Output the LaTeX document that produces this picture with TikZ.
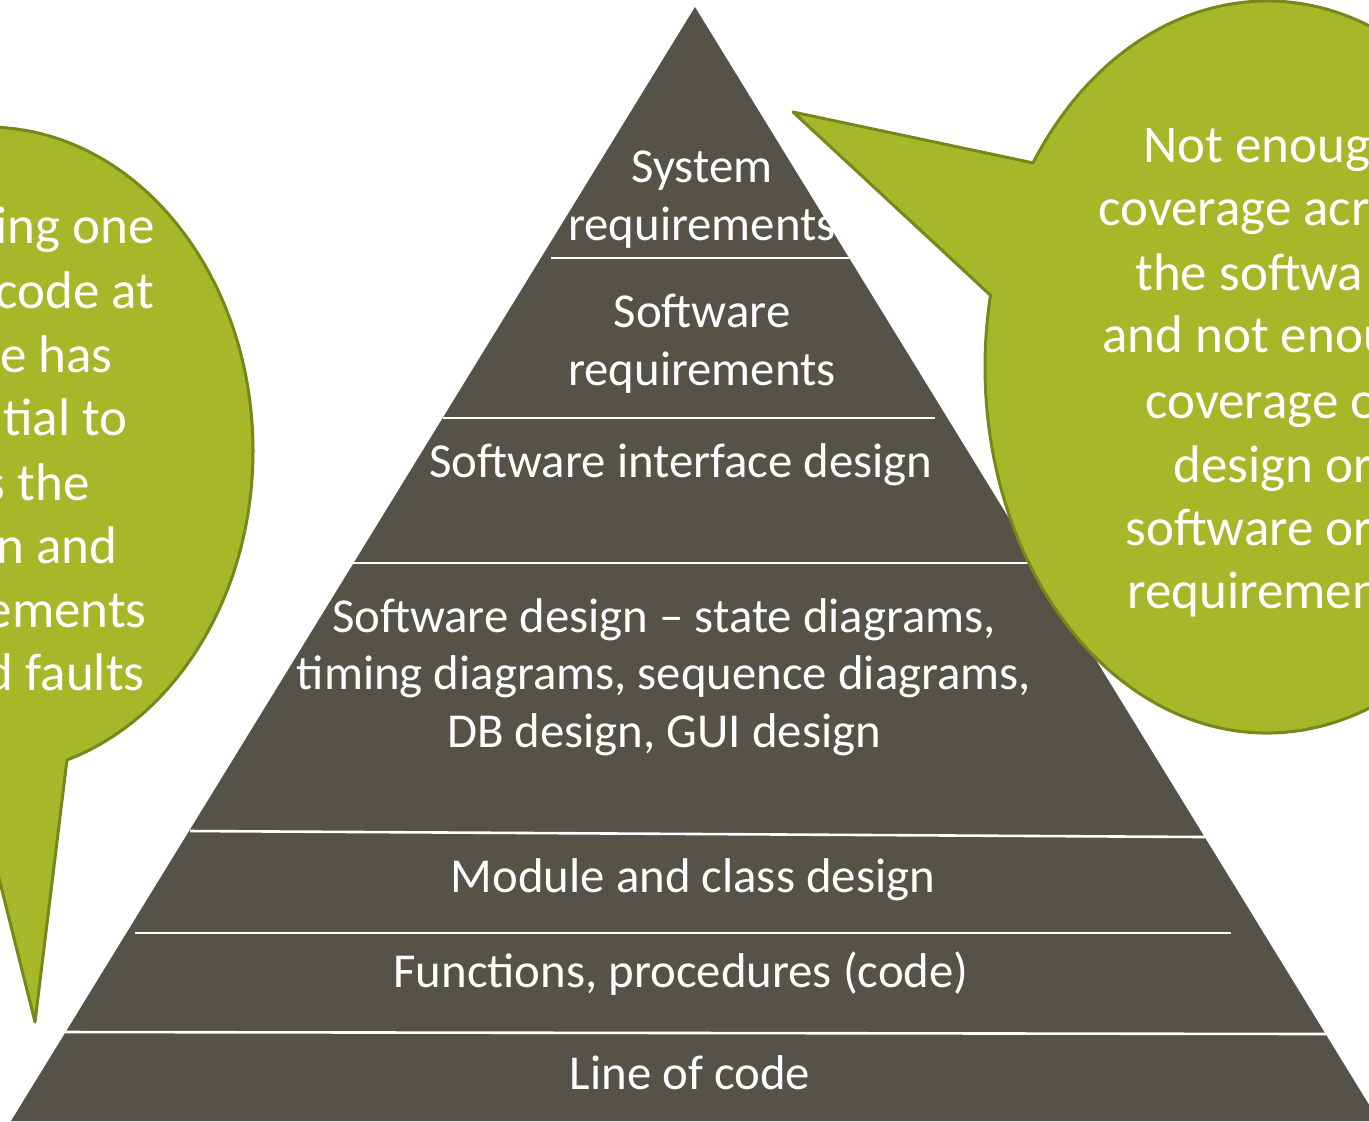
\documentclass[tikz,border=0pt]{standalone}
\usepackage{fontspec}
\setmainfont{Carlito}
\definecolor{pyr}{RGB}{85,83,72}
\definecolor{bubfill}{RGB}{166,183,41}
\definecolor{bubline}{RGB}{118,136,26}
\tikzset{
  sepline/.style={draw=white, line width=1.3pt},
  ptext/.style={text=white, font=\fontsize{24.4}{28.7}\selectfont, align=center, inner sep=0pt, anchor=base},
  btextw/.style={text=white, font=\fontsize{26.5}{32}\selectfont, inner sep=0pt, anchor=base west},
  btexte/.style={text=white, font=\fontsize{26.5}{32}\selectfont, inner sep=0pt, anchor=base east},
  bubble/.style={fill=bubfill, draw=bubline, line width=1.5pt, line join=round},
}
\begin{document}
\begin{tikzpicture}[x=0.5pt,y=-0.5pt]
\path[use as bounding box] (0,0) rectangle (1369,1121);
\clip (0,0) rectangle (1369,1121);

% pyramid
\fill[pyr] (695,7) -- (1379,1121) -- (11,1121) -- cycle;
\draw[sepline] (551,258) -- (850,258);
\draw[sepline] (443,418) -- (935,418);
\draw[sepline] (352,563) -- (1032,563);
\draw[sepline] (190,831) -- (1205,837);
\draw[sepline] (135,933) -- (1231,933);
\draw[sepline] (65,1032) -- (1326,1034);

% multi-line nodes: anchor base = baseline of the last line
\node[ptext] (l1) at (702,240) {System\\requirements};
\node[ptext] (l2) at (702,385) {Software\\requirements};
\node[ptext] (l3) at (681,477) {Software interface design};
\node[ptext] (l4) at (664,747) {Software design – state diagrams,\\timing diagrams, sequence diagrams,\\DB design, GUI design};
\node[ptext] (l5) at (693,892) {Module and class design};
\node[ptext] (l6) at (681,987) {Functions, procedures (code)};
\node[ptext] (l7) at (690,1089) {Line of code};

% right callout
\path (1267,367) ++(213.9:282 and 366) coordinate (rA);
\path (1267,367) ++(191.3:282 and 366) coordinate (rB);
\coordinate (rtip) at (793,112);
\draw[bubble] (rB) -- (rtip) -- (rA)
  arc[start angle=213.9, end angle=551.3, x radius=282, y radius=366] -- cycle;

% left callout
\path (-13,451) ++(72.5:266 and 324) coordinate (lA);
\path (-13,451) ++(93:266 and 324) coordinate (lB);
\coordinate (ltip) at (35,1022);
\draw[bubble] (lA) -- (ltip) -- (lB)
  arc[start angle=93, end angle=432.5, x radius=266, y radius=324] -- cycle;

% right callout text
\node[btextw] (r1) at (1143,162) {Not enoug};
\node[btextw] (r2) at (1098,225) {coverage acr};
\node[btextw] (r3) at (1135,290) {the softwa};
\node[btextw] (r4) at (1102,352) {and not enou};
\node[btextw] (r5) at (1145,418) {coverage o};
\node[btextw] (r6) at (1173,482) {design or};
\node[btextw] (r7) at (1125,545) {software or};
\node[btextw] (r8) at (1127,608) {requiremen};

% left callout text
\node[btexte] (q1) at (155,243) {ing one};
\node[btexte] (q2) at (155,308) {code at};
\node[btexte] (q3) at (113,372) {e has};
\node[btexte] (q4) at (128,435) {tial to};
\node[btexte] (q5) at (90,500) {s the};
\node[btexte] (q6) at (118,563) {n and};
\node[btexte] (q7) at (147,627) {ements};
\node[btexte] (q8) at (145,690) {d faults};
\end{tikzpicture}
\end{document}
